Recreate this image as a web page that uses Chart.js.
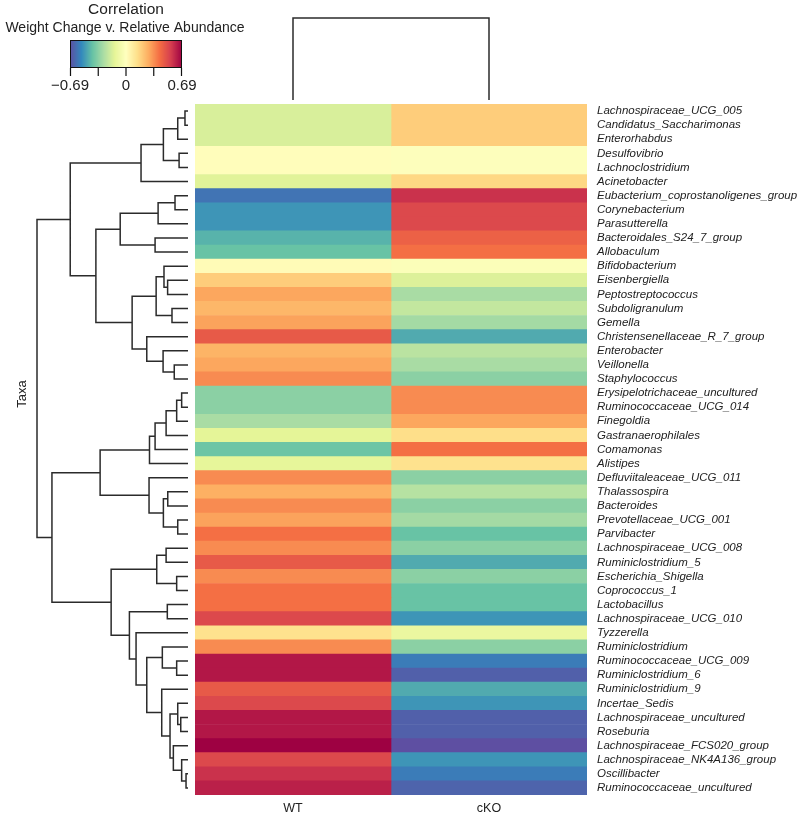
<!DOCTYPE html>
<html>
<head>
<meta charset="utf-8">
<script src="https://cdn.jsdelivr.net/npm/chart.js@4.4.0/dist/chart.umd.min.js"></script>
<style>
  html, body { margin: 0; padding: 0; background: #fff; }
  #wrap { width: 800px; height: 815px; }
</style>
</head>
<body>
<div id="wrap"><canvas id="heatmap" width="800" height="815"></canvas></div>
<script>
const taxa = [
  'Lachnospiraceae_UCG_005', 'Candidatus_Saccharimonas', 'Enterorhabdus', 'Desulfovibrio',
  'Lachnoclostridium', 'Acinetobacter', 'Eubacterium_coprostanoligenes_group', 'Corynebacterium',
  'Parasutterella', 'Bacteroidales_S24_7_group', 'Allobaculum', 'Bifidobacterium',
  'Eisenbergiella', 'Peptostreptococcus', 'Subdoligranulum', 'Gemella',
  'Christensenellaceae_R_7_group', 'Enterobacter', 'Veillonella', 'Staphylococcus',
  'Erysipelotrichaceae_uncultured', 'Ruminococcaceae_UCG_014', 'Finegoldia', 'Gastranaerophilales',
  'Comamonas', 'Alistipes', 'Defluviitaleaceae_UCG_011', 'Thalassospira',
  'Bacteroides', 'Prevotellaceae_UCG_001', 'Parvibacter', 'Lachnospiraceae_UCG_008',
  'Ruminiclostridium_5', 'Escherichia_Shigella', 'Coprococcus_1', 'Lactobacillus',
  'Lachnospiraceae_UCG_010', 'Tyzzerella', 'Ruminiclostridium', 'Ruminococcaceae_UCG_009',
  'Ruminiclostridium_6', 'Ruminiclostridium_9', 'Incertae_Sedis', 'Lachnospiraceae_uncultured',
  'Roseburia', 'Lachnospiraceae_FCS020_group', 'Lachnospiraceae_NK4A136_group', 'Oscillibacter',
  'Ruminococcaceae_uncultured'
];
const groups = ['WT', 'cKO'];

// correlation of weight change v. relative abundance, one value per taxon
const wtCorr = [
  -0.17, -0.17, -0.17, 0.01, 0.01, -0.15,
  -0.60, -0.52, -0.52, -0.45, -0.41, 0.02,
  0.19, 0.29, 0.25, 0.30, 0.47, 0.26, 0.29, 0.35,
  -0.34, -0.34, -0.28, -0.14, -0.40, -0.13,
  0.35, 0.27, 0.35, 0.30, 0.41, 0.35, 0.47, 0.35, 0.41, 0.41, 0.52,
  0.13, 0.35, 0.64, 0.64, 0.47, 0.52, 0.64, 0.64, 0.69, 0.52, 0.58, 0.62
];
const ckoCorr = [
  0.19, 0.19, 0.19, -0.01, -0.01, 0.16,
  0.58, 0.52, 0.52, 0.45, 0.41, -0.02,
  -0.16, -0.28, -0.22, -0.29, -0.47, -0.24, -0.28, -0.34,
  0.35, 0.35, 0.29, 0.14, 0.41, 0.13,
  -0.34, -0.25, -0.34, -0.29, -0.41, -0.34, -0.47, -0.34, -0.41, -0.41, -0.52,
  -0.11, -0.34, -0.58, -0.65, -0.47, -0.52, -0.65, -0.65, -0.69, -0.52, -0.58, -0.64
];

// row clustering, hclust style: negative = row number, positive = earlier merge; last = height (root = 1)
const rowMerge = [
  [-1, -2, 0.020], [1, -3, 0.068], [-4, -5, 0.059], [2, 3, 0.163], [4, -6, 0.311],
  [-7, -8, 0.086], [6, -9, 0.198], [-10, -11, 0.218], [7, 8, 0.449],
  [-13, -14, 0.135], [-12, 10, 0.159], [-15, -16, 0.106], [11, 12, 0.211],
  [-19, -20, 0.091], [-18, 14, 0.165], [-17, 15, 0.273], [13, 16, 0.370],
  [9, 17, 0.610], [5, 18, 0.780],
  [-21, -22, 0.042], [20, -23, 0.075], [21, -24, 0.145], [22, -25, 0.218], [23, -26, 0.255],
  [-28, -29, 0.134], [-30, -31, 0.068], [25, 26, 0.163], [-27, 27, 0.258], [24, 28, 0.582],
  [-32, -33, 0.145], [-34, -35, 0.075], [30, 31, 0.207], [-36, -37, 0.137],
  [-40, -41, 0.075], [-39, 34, 0.170], [-44, -45, 0.048], [-43, 36, 0.068],
  [-48, -49, 0.013], [-47, 38, 0.042], [-46, 39, 0.097], [37, 40, 0.119],
  [-42, 41, 0.174], [35, 42, 0.273], [-38, 43, 0.344], [33, 44, 0.388],
  [32, 45, 0.509], [29, 46, 0.901], [19, 47, 1.0]
];
const colMerge = [[-1, -2, 1.0]];

const corrLimit = 0.69;
const corrTickLabels = [-0.69, 0, 0.69];
const spectral = ['#5E4FA2', '#3288BD', '#66C2A5', '#ABDDA4', '#E6F598', '#FFFFBF',
                  '#FEE08B', '#FDAE61', '#F46D43', '#D53E4F', '#9E0142'];

function hexRgb(h) {
  return [1, 3, 5].map(i => parseInt(h.slice(i, i + 2), 16));
}

function corrColor(v) {
  let t = (v + corrLimit) / (2 * corrLimit);
  t = Math.min(1, Math.max(0, t));
  const pos = t * (spectral.length - 1);
  const i = Math.min(Math.floor(pos), spectral.length - 2);
  const f = pos - i;
  const a = hexRgb(spectral[i]);
  const b = hexRgb(spectral[i + 1]);
  const c = a.map((ch, k) => Math.round(ch + (b[k] - ch) * f));
  return `rgb(${c[0]},${c[1]},${c[2]})`;
}

const font = "'Liberation Sans', Arial, sans-serif";
Chart.defaults.font.family = font;

const dendroPlugin = {
  id: 'dendro',
  afterDraw(chart) {
    const { ctx, chartArea, scales: { x, y } } = chart;
    ctx.save();
    ctx.strokeStyle = '#2b2b2b';
    ctx.lineWidth = 1.5;

    // row dendrogram, left of the heatmap
    const leafX = chartArea.left - 7, rootX = 37;
    const rowNodes = [];
    const rowRef = r => r < 0 ? { px: leafX, py: y.getPixelForValue(-r - 1) } : rowNodes[r - 1];
    ctx.beginPath();
    rowMerge.forEach(([a, b, h]) => {
      const A = rowRef(a), B = rowRef(b);
      const hx = leafX - h * (leafX - rootX);
      ctx.moveTo(A.px, A.py); ctx.lineTo(hx, A.py); ctx.lineTo(hx, B.py); ctx.lineTo(B.px, B.py);
      rowNodes.push({ px: hx, py: (A.py + B.py) / 2 });
    });
    ctx.stroke();

    // column dendrogram, above the heatmap
    const leafY = chartArea.top - 4, rootY = 18;
    const colNodes = [];
    const colRef = r => r < 0 ? { px: x.getPixelForValue(-r - 0.5), py: leafY } : colNodes[r - 1];
    ctx.beginPath();
    colMerge.forEach(([a, b, h]) => {
      const A = colRef(a), B = colRef(b);
      const hy = leafY - h * (leafY - rootY);
      ctx.moveTo(A.px, A.py); ctx.lineTo(A.px, hy); ctx.lineTo(B.px, hy); ctx.lineTo(B.px, B.py);
      colNodes.push({ px: (A.px + B.px) / 2, py: hy });
    });
    ctx.stroke();

    // colour key
    const kx0 = 70, kx1 = 182, ky0 = 40, ky1 = 68;
    for (let px = kx0; px < kx1; px++) {
      ctx.fillStyle = corrColor(-corrLimit + 2 * corrLimit * (px - kx0 + 0.5) / (kx1 - kx0));
      ctx.fillRect(px, ky0, 1, ky1 - ky0);
    }
    ctx.strokeStyle = '#111';
    ctx.lineWidth = 1;
    ctx.strokeRect(kx0 + 0.5, ky0 + 0.5, kx1 - kx0 - 1, ky1 - ky0 - 1);
    ctx.lineWidth = 1.2;
    ctx.beginPath();
    for (let k = 0; k <= 4; k++) {
      const tx = kx0 + 0.5 + (kx1 - kx0 - 1) * k / 4;
      ctx.moveTo(tx, ky1); ctx.lineTo(tx, ky1 + 8);
    }
    ctx.stroke();

    ctx.fillStyle = '#222';
    ctx.textAlign = 'center';
    ctx.textBaseline = 'middle';
    ctx.font = `15px ${font}`;
    corrTickLabels.forEach(v => {
      const tx = kx0 + (kx1 - kx0) * (v + corrLimit) / (2 * corrLimit);
      ctx.fillText(v < 0 ? '\u2212' + Math.abs(v).toFixed(2) : (v === 0 ? '0' : v.toFixed(2)), tx, 86);
    });
    ctx.font = `15.5px ${font}`;
    ctx.fillText('Correlation', 126, 10);
    ctx.font = `14px ${font}`;
    ctx.fillText('Weight Change v. Relative Abundance', 125, 28);

    // row axis title
    ctx.save();
    ctx.translate(22, 394);
    ctx.rotate(-Math.PI / 2);
    ctx.font = `13px ${font}`;
    ctx.fillText('Taxa', 0, 0);
    ctx.restore();

    ctx.restore();
  }
};

const ctx = document.getElementById('heatmap').getContext('2d');
new Chart(ctx, {
  type: 'bar',
  data: {
    labels: taxa,
    datasets: [
      { label: groups[0], data: taxa.map(() => 1), backgroundColor: wtCorr.map(corrColor) },
      { label: groups[1], data: taxa.map(() => 1), backgroundColor: ckoCorr.map(corrColor) }
    ]
  },
  options: {
    indexAxis: 'y',
    responsive: false,
    animation: false,
    datasets: { bar: { barPercentage: 1, categoryPercentage: 1, borderWidth: 0 } },
    layout: { padding: { left: 195, top: 104, right: 0, bottom: 0 } },
    plugins: { legend: { display: false }, tooltip: { enabled: false } },
    scales: {
      x: {
        type: 'linear', position: 'bottom', stacked: true, min: 0, max: groups.length,
        grid: { display: false, drawTicks: false },
        border: { display: false },
        afterBuildTicks: s => { s.ticks = groups.map((g, i) => ({ value: i + 0.5 })); },
        ticks: {
          callback: v => groups[Math.round(v - 0.5)],
          font: { size: 12.5 }, color: '#222', padding: 6, maxRotation: 0
        },
        afterFit: s => { s.height = 20; }
      },
      y: {
        type: 'category', position: 'right', stacked: true,
        grid: { display: false, drawTicks: false },
        border: { display: false },
        ticks: { font: { size: 11.5, style: 'italic' }, color: '#222', padding: 10, autoSkip: false },
        afterFit: s => { s.width = 213; }
      }
    }
  },
  plugins: [dendroPlugin]
});
</script>
</body>
</html>
